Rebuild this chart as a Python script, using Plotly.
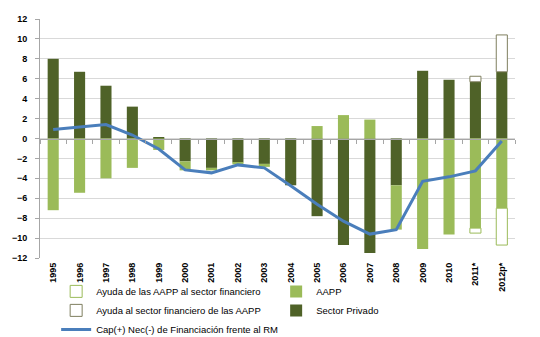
import plotly.graph_objects as go

years = ["1995", "1996", "1997", "1998", "1999", "2000", "2001", "2002", "2003",
         "2004", "2005", "2006", "2007", "2008", "2009", "2010", "2011*", "2012p*"]
sector_privado = [8.0, 6.7, 5.3, 3.2, 0.15, -2.3, -2.95, -2.4, -2.55,
                  -4.7, -7.8, -10.7, -11.5, -4.7, 6.8, 5.9, 5.7, 6.7]
aapp = [-7.2, -5.45, -4.0, -2.95, -1.15, -0.9, -0.25, -0.2, -0.3,
        None, 1.25, 2.35, 1.9, -4.45, -11.1, -9.65, -9.0, -7.0]
ayuda_aapp_sf = [None] * 16 + [-0.5, -3.7]
ayuda_sf_aapp = [None] * 16 + [0.55, 3.7]
cap_nec = [0.9, 1.15, 1.4, 0.35, -1.05, -3.15, -3.45, -2.65, -2.95,
           -4.75, -6.6, -8.3, -9.6, -9.15, -4.3, -3.85, -3.25, -0.25]

DARK = "#4F6228"
LIGHT = "#9BBB59"
BLUE = "#4A7EBB"
FONT = "Liberation Sans"

fig = go.Figure()
fig.add_trace(go.Bar(x=years, y=sector_privado, name="Sector Privado",
                     marker=dict(color=DARK, line=dict(width=0)), legendrank=4))
fig.add_trace(go.Bar(x=years, y=aapp, name="AAPP",
                     marker=dict(color=LIGHT, line=dict(width=0)), legendrank=2))
fig.add_trace(go.Bar(x=years, y=ayuda_aapp_sf, name="Ayuda de las AAPP al sector financiero",
                     marker=dict(color="white", line=dict(color=LIGHT, width=1)), legendrank=1))
fig.add_trace(go.Bar(x=years, y=ayuda_sf_aapp, name="Ayuda al sector financiero de las AAPP",
                     marker=dict(color="white", line=dict(color="#7F7F5F", width=1)), legendrank=3))
fig.add_trace(go.Scatter(x=years, y=cap_nec, name="Cap(+) Nec(-) de Financiación frente al RM",
                         mode="lines", line=dict(color=BLUE, width=3), legendrank=5))
# helper trace for the axis at zero with boundary ticks
fig.add_trace(go.Scatter(x=[-0.5, 17.5], y=[0, 0], xaxis="x2", mode="lines",
                         line=dict(width=0, color="rgba(0,0,0,0)"), showlegend=False,
                         hoverinfo="skip"))

fig.update_layout(
    width=540, height=337,
    margin=dict(l=40, r=25, t=19, b=79, autoexpand=False),
    barmode="relative",
    bargap=0.58,
    plot_bgcolor="white", paper_bgcolor="white",
    font=dict(family=FONT, size=10, color="#000000"),
    showlegend=True,
    legend=dict(orientation="h", x=0.034, xanchor="left", y=-0.079, yanchor="top",
                entrywidth=175, entrywidthmode="pixels", traceorder="normal",
                font=dict(family=FONT, size=9.5), bgcolor="rgba(0,0,0,0)",
                itemwidth=30, tracegroupgap=0),
    xaxis=dict(type="category", tickangle=-90, showgrid=False, showline=False,
               ticks="", tickfont=dict(family=FONT, size=9, color="#000", weight="bold"),
               range=[-0.5, 17.5], ticklabelstandoff=2),
    xaxis2=dict(overlaying="x", anchor="free", position=0.5, range=[-0.5, 17.5],
                tick0=-0.5, dtick=1, ticks="outside", ticklen=4, tickcolor="#A6A6A6",
                showticklabels=False, showline=True, linecolor="#A6A6A6", linewidth=1,
                showgrid=False, zeroline=False),
    yaxis=dict(range=[-12, 12], dtick=2, tick0=0, showgrid=True, gridcolor="#D9D9D9",
               zeroline=False, showline=True, linecolor="#A6A6A6", ticks="outside",
               ticklen=4, tickcolor="#A6A6A6",
               tickfont=dict(family=FONT, size=9, color="#000", weight="bold"),
               ticklabelstandoff=6),
)
fig.for_each_trace(lambda t: t.update(hoverinfo="skip"))

fig.write_html("out.html")
